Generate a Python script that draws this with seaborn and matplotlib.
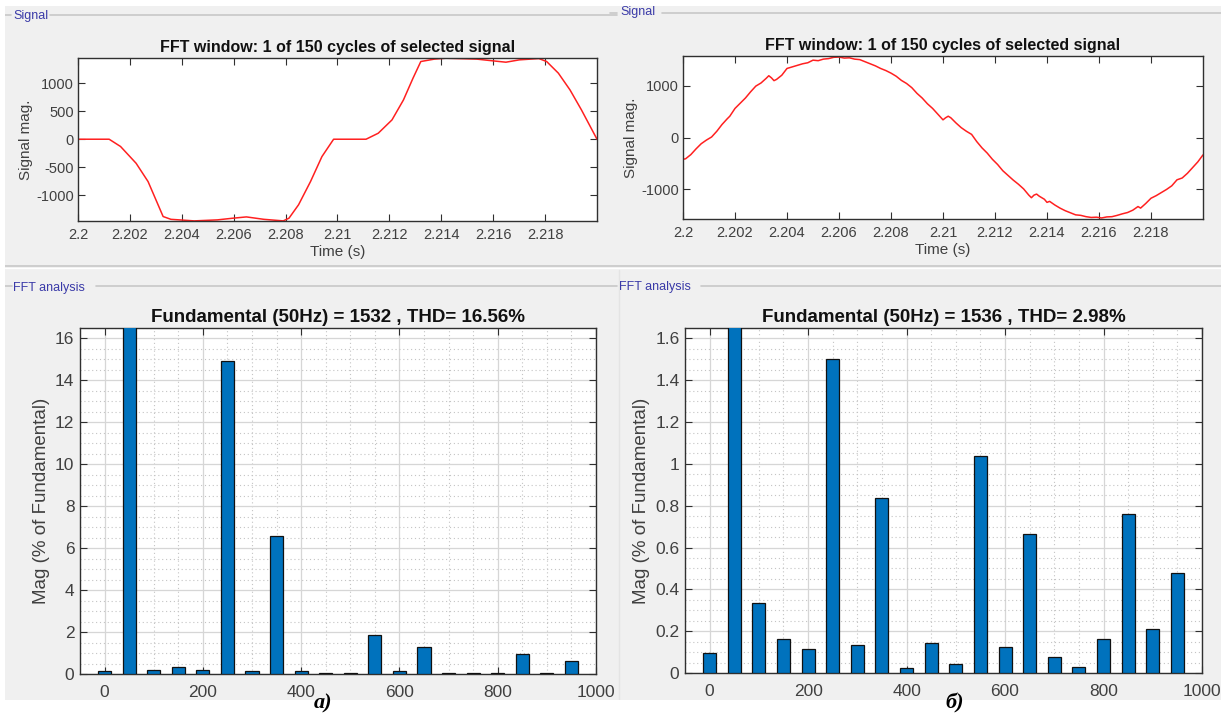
import numpy as np
import pandas as pd
import seaborn as sns
import matplotlib.pyplot as plt
from matplotlib.lines import Line2D
from matplotlib.patches import Rectangle
from matplotlib.ticker import MultipleLocator, FuncFormatter

# --- signal window, case a) (six-step like voltage) ---
t_a = [2.2000, 2.2012, 2.20164, 2.20224, 2.2027, 2.20306, 2.20328, 2.20358,
       2.20448, 2.20537, 2.20597, 2.20649, 2.20716, 2.20791, 2.20813, 2.2085,
       2.20896, 2.2094, 2.20985, 2.2111, 2.21157, 2.2121, 2.21254, 2.21291,
       2.21321, 2.21373, 2.21418, 2.21537, 2.21597, 2.21649, 2.21701, 2.21776,
       2.21806, 2.21851, 2.21896, 2.2194, 2.2200]
v_a = [0, 0, -130, -430, -756, -1143, -1380, -1430,
       -1458, -1440, -1410, -1387, -1430, -1458, -1410, -1170,
       -756, -310, 0, 0, 107, 345, 700, 1090,
       1387, 1430, 1446, 1430, 1400, 1375, 1417, 1440,
       1387, 1180, 880, 524, 0]

# --- signal window, case б) (near sinusoidal) ---
t_b = [2.2000, 2.2001, 2.2003, 2.2005, 2.2007, 2.2009, 2.2011, 2.2013, 2.2015,
       2.2017, 2.2018, 2.2020, 2.2022, 2.2024, 2.2026, 2.2028, 2.2030, 2.2032,
       2.2033, 2.2034, 2.2035, 2.2036, 2.2038, 2.2040, 2.2042, 2.2044, 2.2046,
       2.2048, 2.2050, 2.2052, 2.2054, 2.2056, 2.2058, 2.2060, 2.2062, 2.2064,
       2.2066, 2.2068, 2.2070, 2.2072, 2.2074, 2.2076, 2.2078, 2.2080, 2.2082,
       2.2084, 2.2086, 2.2088, 2.2090, 2.2092, 2.2094, 2.2096, 2.2098, 2.2100,
       2.2101, 2.2102, 2.2103, 2.2105, 2.2107, 2.2109, 2.2111, 2.2113, 2.2115,
       2.2117, 2.2119, 2.2121, 2.2123, 2.2125, 2.2127, 2.2129, 2.2131, 2.2133,
       2.2134, 2.2135, 2.2136, 2.2137, 2.2139, 2.2140, 2.2141, 2.2143, 2.2145,
       2.2147, 2.2149, 2.2151, 2.2153, 2.2155, 2.2157, 2.2159, 2.2161, 2.2163,
       2.2165, 2.2167, 2.2169, 2.2171, 2.2173, 2.2175, 2.2176, 2.2178, 2.2180,
       2.2182, 2.2184, 2.2186, 2.2188, 2.2190, 2.2192, 2.2194, 2.2196, 2.2198,
       2.2200]
v_b = [-420, -410, -330, -220, -120, -50, 10, 120, 250,
       360, 410, 560, 660, 760, 880, 990, 1050, 1140,
       1190, 1150, 1095, 1120, 1200, 1330, 1360, 1390, 1420,
       1440, 1490, 1480, 1510, 1520, 1545, 1550, 1530, 1535,
       1510, 1500, 1460, 1420, 1380, 1330, 1290, 1240, 1180,
       1100, 1040, 960, 850, 760, 650, 560, 450, 340,
       380, 410, 380, 280, 190, 120, 60, -80, -200,
       -300, -420, -520, -640, -730, -820, -900, -990, -1110,
       -1160, -1110, -1090, -1130, -1190, -1250, -1230, -1300, -1360,
       -1410, -1450, -1490, -1500, -1525, -1540, -1535, -1550, -1530,
       -1525, -1500, -1470, -1445, -1400, -1330, -1360, -1270, -1170,
       -1120, -1060, -1000, -930, -815, -780, -690, -580, -470,
       -335]

# --- FFT harmonic spectra (% of fundamental), 0..950 Hz ---
freq = [0, 50, 100, 150, 200, 250, 300, 350, 400, 450,
        500, 550, 600, 650, 700, 750, 800, 850, 900, 950]
mag_a = [0.12, 100, 0.18, 0.35, 0.18, 14.95, 0.12, 6.6, 0.12, 0.05,
         0.05, 1.85, 0.12, 1.3, 0.05, 0.05, 0.05, 0.95, 0.05, 0.6]
mag_b = [0.095, 100, 0.335, 0.165, 0.115, 1.50, 0.135, 0.835, 0.025, 0.145,
         0.045, 1.04, 0.125, 0.665, 0.075, 0.03, 0.165, 0.76, 0.21, 0.48]

sig_title = "FFT window: 1 of 150 cycles of selected signal"
fft_titles = ["Fundamental (50Hz) = 1532 , THD= 16.56%",
              "Fundamental (50Hz) = 1536 , THD= 2.98%"]

W, H = 1221, 713
PANEL = "#f0f0f0"
TXT = "#404040"
BLUE_LBL = "#3a3aa8"
BAR = "#0072BD"

sns.set_style("ticks")
plt.rcParams["font.family"] = ["Liberation Sans", "DejaVu Sans"]
plt.rcParams["axes.unicode_minus"] = False

fig = plt.figure(figsize=(W / 100, H / 100), dpi=100, facecolor=PANEL)


def box(l, t, r, b):
    return [l / W, 1 - b / H, (r - l) / W, (b - t) / H]


def style_axes(ax, fs):
    ax.set_facecolor("white")
    for s in ax.spines.values():
        s.set_visible(True)
        s.set_color("#303030")
        s.set_linewidth(1.0)
    ax.tick_params(which="major", direction="in", length=5, top=True, right=True,
                   labelsize=fs, labelcolor=TXT, color="#303030")
    ax.tick_params(which="minor", length=0, top=True, right=True)


fmt = FuncFormatter(lambda v, p: f"{v:g}")

# signal plots
sig_axes = [fig.add_axes(box(78, 58, 597, 221)), fig.add_axes(box(683, 56, 1203, 219))]
for ax, t, v, lim, yt in zip(sig_axes, [t_a, t_b], [v_a, v_b],
                             [(-1460, 1450), (-1570, 1570)],
                             [[-1000, -500, 0, 500, 1000], [-1000, 0, 1000]]):
    sns.lineplot(x=t, y=v, ax=ax, color="#ff2020", lw=1.1, sort=False)
    ax.set_xlim(2.2, 2.22)
    ax.set_ylim(*lim)
    ax.set_xticks(np.arange(2.2, 2.2195, 0.002))
    ax.set_yticks(yt)
    ax.xaxis.set_major_formatter(fmt)
    style_axes(ax, 10.5)
    ax.tick_params(axis="x", pad=5)
    ax.tick_params(axis="y", pad=3)
    ax.set_title(sig_title, fontsize=11.5, fontweight="bold", color="#111111", pad=4)
    ax.set_xlabel("Time (s)", fontsize=11, color=TXT, labelpad=2)
    ax.set_ylabel("Signal mag.", fontsize=11, color=TXT, labelpad=2)

# FFT bar plots
fft_axes = [fig.add_axes(box(80, 328, 596, 674)), fig.add_axes(box(685, 328, 1202, 673))]
for ax, mag, ymax, step, title in zip(fft_axes, [mag_a, mag_b], [16.5, 1.65], [2, 0.2], fft_titles):
    df = pd.DataFrame({"freq": freq, "mag": mag})
    sns.barplot(data=df, x="freq", y="mag", ax=ax, native_scale=True, width=0.53,
                color=BAR, saturation=1, edgecolor="#111111", linewidth=0.9,
                errorbar=None, zorder=3)
    ax.set_xlim(-50, 1000)
    ax.set_ylim(0, ymax)
    ax.set_xticks(np.arange(0, 1001, 200))
    ax.xaxis.set_minor_locator(MultipleLocator(50))
    ax.yaxis.set_major_locator(MultipleLocator(step))
    ax.yaxis.set_minor_locator(MultipleLocator(step / 4))
    ax.xaxis.set_major_formatter(fmt)
    ax.yaxis.set_major_formatter(fmt)
    ax.set_axisbelow(True)
    ax.grid(which="major", color="#d6d6d6", lw=0.9, ls="-")
    ax.grid(which="minor", color="#c4c4c4", lw=0.8, ls=(0, (1, 2.5)))
    style_axes(ax, 12.5)
    ax.tick_params(axis="x", pad=8)
    ax.tick_params(axis="y", pad=4)
    ax.set_title(title, fontsize=13.5, fontweight="bold", color="#111111", pad=4)
    ax.set_xlabel("")
    ax.set_ylabel("Mag (% of Fundamental)", fontsize=13.5, color=TXT, labelpad=4)


# panel frames, separators and captions
def hline(y, x0, x1, color="#c8c8c8", lw=1.2):
    fig.add_artist(Line2D([x0 / W, x1 / W], [1 - y / H, 1 - y / H], color=color, lw=lw))


hline(15, 5, 11)
hline(15, 50, 617)
hline(13, 610, 617)
hline(13, 662, W)
hline(266, 5, W)
hline(268, 5, W, color="white", lw=1.0)
hline(286, 5, 12)
hline(286, 96, 617)
hline(286, 701, W)
fig.add_artist(Line2D([619 / W, 619 / W], [1 - 700 / H, 1 - 270 / H], color="#e4e4e4", lw=1.0))

fig.text(13 / W, 1 - 16 / H, "Signal", fontsize=9, color=BLUE_LBL, va="center", ha="left")
fig.text(620 / W, 1 - 12 / H, "Signal", fontsize=9, color=BLUE_LBL, va="center", ha="left")
fig.text(13 / W, 1 - 288 / H, "FFT analysis", fontsize=9, color=BLUE_LBL, va="center", ha="left")
fig.text(619 / W, 1 - 287 / H, "FFT analysis", fontsize=9, color=BLUE_LBL, va="center", ha="left")

# white page margins (drawn over panels)
fig.add_artist(Rectangle((0, 0), 1, 13 / H, transform=fig.transFigure,
                         facecolor="white", edgecolor="none", zorder=5))
fig.add_artist(Rectangle((0, 1 - 6 / H), 1, 6 / H, transform=fig.transFigure,
                         facecolor="white", edgecolor="none", zorder=5))
fig.add_artist(Rectangle((0, 0), 5 / W, 1, transform=fig.transFigure,
                         facecolor="white", edgecolor="none", zorder=5))

cap = dict(fontsize=16, fontweight="bold", fontstyle="italic", color="black",
           ha="center", va="center", family=["Liberation Serif", "DejaVu Serif"], zorder=6)
fig.text(323 / W, 1 - 703 / H, "а)", **cap)
fig.text(955 / W, 1 - 703 / H, "б)", **cap)

fig.savefig("out.png", dpi=100, facecolor=fig.get_facecolor())
